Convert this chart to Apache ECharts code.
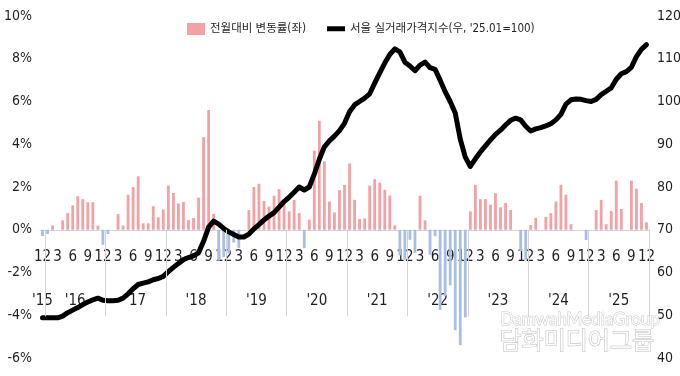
<!DOCTYPE html>
<html lang="ko">
<head>
<meta charset="utf-8">
<title>서울 실거래가격지수</title>
<script src="https://cdn.jsdelivr.net/npm/echarts@6/dist/echarts.min.js"></script>
<style>
  html, body { margin: 0; padding: 0; background: #fff; }
  #chart { width: 680px; height: 376px; }
</style>
</head>
<body>
<div id="chart"></div>
<script>
// 월 카테고리 ('15.12 ~ '25.12)
const categories = [
  '15.12',
  '16.01', '16.02', '16.03', '16.04', '16.05', '16.06', '16.07', '16.08', '16.09', '16.10', '16.11', '16.12',
  '17.01', '17.02', '17.03', '17.04', '17.05', '17.06', '17.07', '17.08', '17.09', '17.10', '17.11', '17.12',
  '18.01', '18.02', '18.03', '18.04', '18.05', '18.06', '18.07', '18.08', '18.09', '18.10', '18.11', '18.12',
  '19.01', '19.02', '19.03', '19.04', '19.05', '19.06', '19.07', '19.08', '19.09', '19.10', '19.11', '19.12',
  '20.01', '20.02', '20.03', '20.04', '20.05', '20.06', '20.07', '20.08', '20.09', '20.10', '20.11', '20.12',
  '21.01', '21.02', '21.03', '21.04', '21.05', '21.06', '21.07', '21.08', '21.09', '21.10', '21.11', '21.12',
  '22.01', '22.02', '22.03', '22.04', '22.05', '22.06', '22.07', '22.08', '22.09', '22.10', '22.11', '22.12',
  '23.01', '23.02', '23.03', '23.04', '23.05', '23.06', '23.07', '23.08', '23.09', '23.10', '23.11', '23.12',
  '24.01', '24.02', '24.03', '24.04', '24.05', '24.06', '24.07', '24.08', '24.09', '24.10', '24.11', '24.12',
  '25.01', '25.02', '25.03', '25.04', '25.05', '25.06', '25.07', '25.08', '25.09', '25.10', '25.11', '25.12'
]

// 전월대비 변동률 (%, 좌축)
const momChange = [
  -0.3,
  -0.2, 0.2, 0, 0.44, 0.78, 1.14, 1.57, 1.43, 1.29, 1.29, 0.2, -0.7,
  -0.2, 0, 0.73, 0.2, 1.64, 2.0, 2.5, 0.3, 0.3, 1.1, 0.58, 0.95,
  2.06, 1.72, 1.23, 1.3, 0.45, 0.55, 1.5, 4.33, 5.6, 0.74, -1.45, -1.28,
  -1.1, -0.6, -0.85, 0, 0.92, 2.0, 2.15, 1.35, 1.09, 1.59, 1.9, 1.32,
  0.86, 1.4, 0.78, -0.86, 0.47, 3.7, 5.1, 3.2, 1.32, 0.81, 1.85, 2.1,
  3.1, 1.4, 0.5, 0.53, 2.06, 2.37, 2.2, 1.87, 1.6, 0.2, -1.2, -1.4,
  -0.47, -1.09, 1.59, 0.44, -1.17, -0.3, -3.75, -3.1, -2.6, -4.7, -5.4, -4.1,
  0.86, 2.1, 1.43, 1.43, 1.17, 1.71, 1.05, 1.25, 0.93, 0, -1.0, -1.4,
  0.22, 0.55, 0, 0.6, 0.78, 1.32, 2.1, 1.64, 0.26, 0, 0, -0.48,
  0, 0.92, 1.4, 0.26, 0.88, 2.3, 0.97, 0, 2.3, 1.92, 1.25, 0.35
]

// 서울 실거래가격지수 ('25.01=100, 우축)
const priceIndex = [
  49.4,
  49.4, 49.4, 49.4, 49.8, 50.6, 51.2, 51.8, 52.5, 53.1, 53.6, 54.0, 53.5,
  53.4, 53.4, 53.5, 54.0, 55.0, 56.2, 57.2, 57.5, 57.8, 58.3, 58.6, 59.1,
  60.2, 61.2, 62.1, 63.0, 63.5, 63.9, 64.6, 67.3, 70.6, 72.0, 71.3, 70.3,
  69.5, 68.9, 68.3, 68.3, 69.0, 70.2, 71.2, 72.3, 73.2, 74.0, 75.3, 76.6,
  77.6, 78.8, 80.0, 79.3, 80.0, 83.0, 86.5, 89.4, 90.8, 91.9, 93.2, 94.9,
  97.6, 99.2, 100.0, 100.8, 101.8, 104.3, 106.7, 109.0, 111.0, 112.3, 111.6, 109.2,
  108.3, 107.2, 108.5, 109.2, 107.9, 107.5, 105.0, 102.3, 100.0, 97.3, 91.2, 87.0,
  84.8, 86.6, 88.2, 89.6, 91.0, 92.3, 93.3, 94.5, 95.6, 96.1, 95.7, 94.2,
  93.1, 93.6, 93.9, 94.3, 94.8, 95.7, 97.0, 99.4, 100.4, 100.6, 100.5, 100.2,
  100.0, 100.5, 101.6, 102.4, 103.2, 105.2, 106.5, 107.0, 108.0, 110.5, 112.2, 113.3
]

// 연도 라벨
const yearLabels = ["'15", "'16", "'17", "'18", "'19", "'20", "'21", "'22", "'23", "'24", "'25"]

const barName = '전월대비 변동률(좌)'
const lineName = "서울 실거래가격지수(우, '25.01=100)"

const PINK = '#f2a1a4'
const BLUE = '#a8bee2'
const TEXT = '#1f1f1f'
const GRID_GRAY = '#d4d4d4'
const NUM_FONT = '"Liberation Sans Narrow", "DejaVu Sans Condensed", "Noto Sans CJK KR", sans-serif'

// 0% 기준선까지 x축을 올림 (plot 높이 342px, 0%는 아래에서 6/16 지점)
const ZERO_OFFSET = -128
// 연도 구분선 하단 (좌축 값 기준)
const DIVIDER_BOTTOM = -4.05

// 연도 구분선(12월 뒤 경계)과 연도 라벨 위치 (카테고리 인덱스 기준)
const yearOf = (c) => c.split('.')[0]
const dividerPos = []
const yearCenter = {}
categories.forEach((c, i) => {
  if (c.endsWith('.12')) dividerPos.push(i + 0.5)
  const y = yearOf(c)
  ;(yearCenter[y] = yearCenter[y] || []).push(i)
})
const yearPos = Object.keys(yearCenter).map((y) => {
  const idx = yearCenter[y]
  return (idx[0] + idx[idx.length - 1]) / 2
})
const yearByPos = {}
yearPos.forEach((p, k) => { yearByPos[p] = yearLabels[k] })

const chart = echarts.init(document.getElementById('chart'), null, { renderer: 'canvas' })

const option = {
  animation: false,
  backgroundColor: '#fff',
  grid: { left: 40, right: 31, top: 16, bottom: 18, containLabel: false, outerBoundsMode: 'none' },
  legend: [
    {
      left: 182, top: 18, itemWidth: 18, itemHeight: 12,
      data: [{ name: barName, icon: 'rect', itemStyle: { color: PINK } }],
      textStyle: { color: TEXT, fontSize: 11.5, fontFamily: NUM_FONT },
      selectedMode: false
    },
    {
      left: 322, top: 18, itemWidth: 18, itemHeight: 12,
      data: [{ name: lineName, icon: 'path://M0,0H18V5H0Z', itemStyle: { color: '#000' } }],
      textStyle: { color: TEXT, fontSize: 11.5, fontFamily: NUM_FONT },
      selectedMode: false
    }
  ],
  xAxis: [
    {
      // 월 라벨
      type: 'category',
      data: categories,
      position: 'bottom',
      offset: ZERO_OFFSET,
      axisLine: { onZero: false, lineStyle: { color: GRID_GRAY, width: 1 } },
      axisTick: { show: false },
      axisLabel: {
        interval: (i) => i % 3 === 0,
        formatter: (v) => String(Number(v.split('.')[1])),
        margin: 20,
        color: TEXT,
        fontSize: 15,
        fontFamily: NUM_FONT
      }
    },
    {
      // 연도 라벨 (카테고리 인덱스와 같은 눈금)
      type: 'value',
      min: -0.5,
      max: categories.length - 0.5,
      position: 'bottom',
      offset: ZERO_OFFSET,
      splitLine: { show: false },
      axisLine: { show: false, onZero: false },
      axisTick: { show: false },
      axisLabel: {
        customValues: yearPos,
        formatter: (v) => yearByPos[v] || '',
        margin: 64,
        color: TEXT,
        fontSize: 15,
        fontFamily: NUM_FONT
      }
    }
  ],
  yAxis: [
    {
      type: 'value', min: -6, max: 10, interval: 2, position: 'left',
      axisLine: { show: false }, axisTick: { show: false }, splitLine: { show: false },
      axisLabel: { formatter: '{value}%', margin: 8, color: TEXT, fontSize: 14, fontFamily: NUM_FONT }
    },
    {
      type: 'value', min: 40, max: 120, interval: 10, position: 'right',
      axisLine: { show: false }, axisTick: { show: false }, splitLine: { show: false },
      axisLabel: { margin: 8, color: TEXT, fontSize: 14, fontFamily: NUM_FONT }
    }
  ],
  series: [
    {
      // 연도 구분선
      type: 'line',
      xAxisIndex: 1,
      yAxisIndex: 0,
      data: [],
      silent: true,
      z: 1,
      markLine: {
        silent: true,
        symbol: 'none',
        label: { show: false },
        lineStyle: { color: GRID_GRAY, type: 'solid', width: 1 },
        data: dividerPos.map((p) => [{ coord: [p, 0] }, { coord: [p, DIVIDER_BOTTOM] }])
      }
    },
    {
      name: barName,
      type: 'bar',
      xAxisIndex: 0,
      data: momChange,
      barWidth: 2.8,
      z: 2,
      itemStyle: { color: (p) => (p.value >= 0 ? PINK : BLUE) }
    },
    {
      name: lineName,
      type: 'line',
      xAxisIndex: 0,
      yAxisIndex: 1,
      data: priceIndex,
      symbol: 'none',
      z: 3,
      itemStyle: { color: '#000' },
      lineStyle: { color: '#000', width: 5, join: 'round', cap: 'round' }
    }
  ],
  graphic: [
    {
      type: 'text', left: 500, top: 311, z: 100,
      style: {
        text: 'DamwahMediaGroup', font: '17px Lato, sans-serif',
        fill: 'rgba(255,255,255,0.92)', stroke: 'rgba(150,150,150,0.55)', lineWidth: 1
      }
    },
    {
      type: 'text', left: 499, top: 327, z: 100,
      style: {
        text: '담화미디어그룹', font: '24px "Noto Sans CJK KR", sans-serif',
        fill: 'rgba(255,255,255,0.92)', stroke: 'rgba(140,140,140,0.6)', lineWidth: 1
      }
    }
  ]
}

chart.setOption(option)
window.addEventListener('resize', () => chart.resize())
</script>
</body>
</html>
